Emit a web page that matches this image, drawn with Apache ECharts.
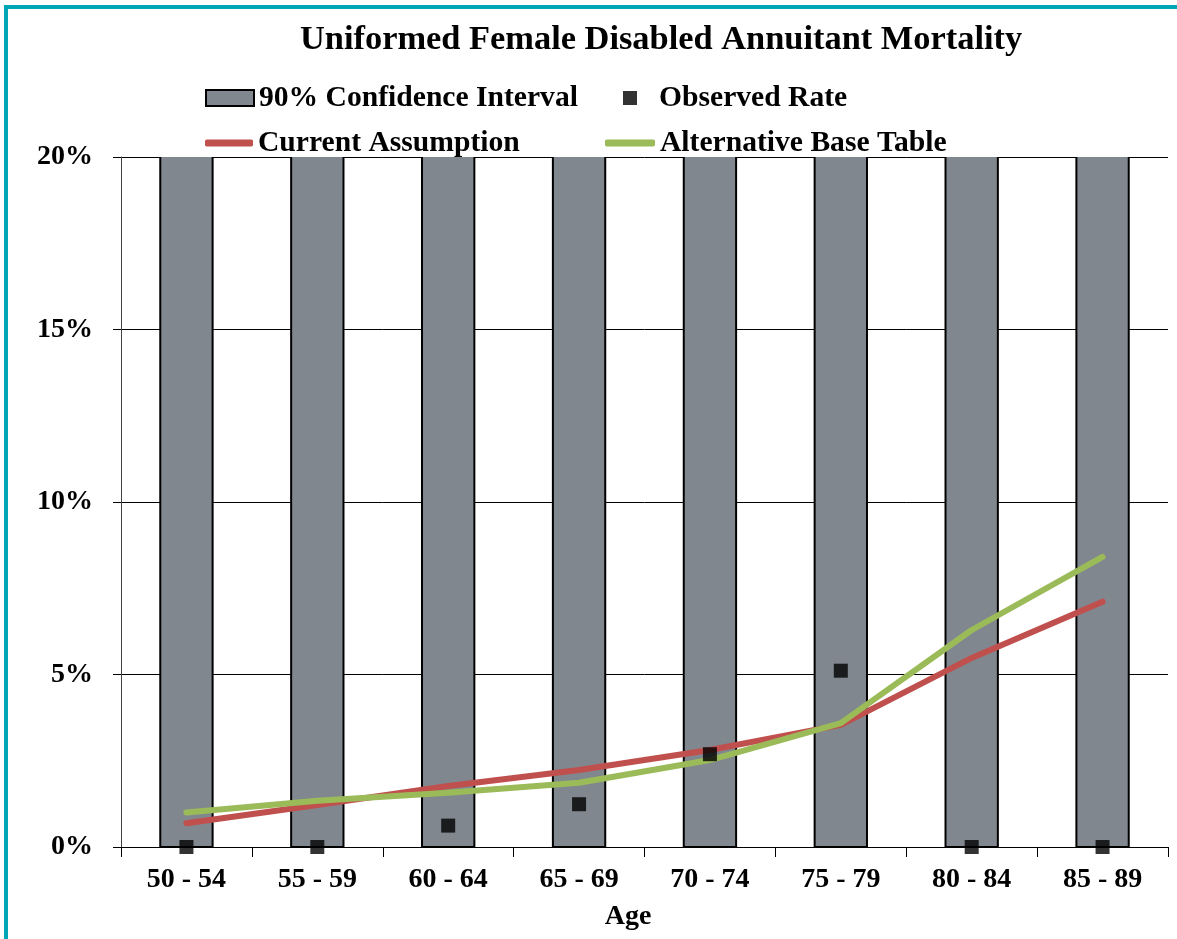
<!DOCTYPE html>
<html>
<head>
<meta charset="utf-8">
<script src="https://cdn.jsdelivr.net/npm/echarts@6/dist/echarts.min.js"></script>
<style>
html, body { margin: 0; padding: 0; background: #ffffff; overflow: hidden; width: 1177px; height: 939px; }
#frame { position: absolute; left: 4px; top: 5px; width: 1300px; height: 1100px; border-left: 4px solid #00A6B6; border-top: 4px solid #00A6B6; }
#chart { position: absolute; left: 0; top: 0; width: 1177px; height: 939px; }
</style>
</head>
<body>
<div id="frame"></div>
<div id="chart"></div>
<script>
// ---- data ----
const categories = ['50 - 54', '55 - 59', '60 - 64', '65 - 69', '70 - 74', '75 - 79', '80 - 84', '85 - 89'];
// 90% confidence interval: lower bound and upper bound (upper bounds run past the 20% axis maximum)
const ciLower = [0, 0, 0, 0, 0, 0, 0, 0];
const ciUpper = [0.25, 0.25, 0.25, 0.25, 0.25, 0.25, 0.25, 0.25];
const observedRate = [0, 0, 0.0062, 0.0124, 0.0269, 0.0511, 0, 0];
const currentAssumption = [0.0069, 0.0122, 0.0177, 0.0223, 0.0281, 0.0354, 0.0548, 0.0711];
const alternativeBaseTable = [0.0100, 0.0134, 0.0157, 0.0186, 0.0252, 0.0359, 0.0629, 0.0841];
const yMin = 0, yMax = 0.20, yStep = 0.05;

const FONT = "'Liberation Serif', 'Times New Roman', serif";
const ciData = categories.map((c, i) => [i, ciLower[i], ciUpper[i]]);

const chart = echarts.init(document.getElementById('chart'), null, { renderer: 'canvas' });

const legendText = { fontFamily: FONT, fontWeight: 'bold', fontSize: 29.6, color: '#000', lineHeight: 30 };

function renderCI(params, api) {
  const x = api.value(0);
  const lo = api.value(1), hi = api.value(2);
  const p0 = api.coord([x, lo]);
  const p1 = api.coord([x, hi]);
  const w = api.size([1, 0])[0] * 0.4;
  const cs = params.coordSys;
  const top = Math.max(p1[1], cs.y);
  const bottom = Math.min(p0[1], cs.y + cs.height);
  const l = p0[0] - w / 2, r = p0[0] + w / 2;
  const clippedTop = p1[1] < cs.y;
  const pts = clippedTop
    ? [[l, top], [l, bottom], [r, bottom], [r, top]]
    : [[l, top], [l, bottom], [r, bottom], [r, top], [l, top]];
  return {
    type: 'group',
    children: [
      { type: 'rect', shape: { x: l, y: top, width: w, height: bottom - top }, style: { fill: '#80878F' } },
      { type: 'polyline', shape: { points: pts }, style: { stroke: '#000', lineWidth: 2, fill: null } }
    ]
  };
}

chart.setOption({
  backgroundColor: 'transparent',
  animation: false,
  title: {
    text: 'Uniformed Female Disabled Annuitant Mortality',
    left: 300,
    top: 23,
    padding: 0,
    textStyle: { fontFamily: FONT, fontWeight: 'bold', fontSize: 34.4, color: '#000' }
  },
  legend: [
    {
      data: [{ name: '90% Confidence Interval', icon: 'rect' }],
      left: 205, top: 83, padding: 0, itemWidth: 48, itemHeight: 16, itemGap: 0,
      selectedMode: false, textStyle: legendText
    },
    {
      data: [{ name: 'Observed Rate', icon: 'rect' }],
      left: 623, top: 83, padding: 0, itemWidth: 14, itemHeight: 14, itemGap: 0,
      selectedMode: false,
      formatter: n => '{g|}' + n,
      textStyle: Object.assign({}, legendText, { rich: { g: { width: 17 } } })
    },
    {
      data: [{ name: 'Current Assumption', icon: 'roundRect' }],
      left: 205, top: 128, padding: 0, itemWidth: 48, itemHeight: 7, itemGap: 0,
      selectedMode: false, textStyle: legendText
    },
    {
      data: [{ name: 'Alternative Base Table', icon: 'roundRect' }],
      left: 605, top: 128, padding: 0, itemWidth: 50, itemHeight: 7, itemGap: 0,
      selectedMode: false, textStyle: legendText
    }
  ],
  grid: { left: 121, right: 9, top: 157, bottom: 92, containLabel: false },
  xAxis: {
    type: 'category',
    data: categories,
    boundaryGap: true,
    name: 'Age',
    nameLocation: 'middle',
    nameGap: 56,
    nameTextStyle: { fontFamily: FONT, fontWeight: 'bold', fontSize: 28, color: '#000', padding: [0, 33, 0, 0] },
    axisLine: { show: true, lineStyle: { color: '#000', width: 1 } },
    axisTick: { show: true, length: 10, lineStyle: { color: '#000', width: 1 } },
    axisLabel: { margin: 19, fontFamily: FONT, fontWeight: 'bold', fontSize: 28, color: '#000' },
    splitLine: { show: false }
  },
  yAxis: {
    type: 'value',
    min: yMin, max: yMax, interval: yStep,
    axisLine: { show: true, lineStyle: { color: '#404040', width: 1 } },
    axisTick: { show: true, length: 8, lineStyle: { color: '#000', width: 1 } },
    axisLabel: {
      margin: 28, fontFamily: FONT, fontWeight: 'bold', fontSize: 28, color: '#000',
      formatter: v => Math.round(v * 100) + '%'
    },
    splitLine: { show: true, lineStyle: { color: '#000', width: 1 } }
  },
  series: [
    {
      name: '90% Confidence Interval',
      type: 'custom',
      renderItem: renderCI,
      data: ciData,
      encode: { x: 0, y: [1, 2] },
      itemStyle: { color: '#80878F', borderColor: '#000', borderWidth: 2 },
      z: 2
    },
    {
      name: 'Current Assumption',
      type: 'line',
      data: currentAssumption,
      color: '#C0504D',
      symbol: 'none',
      lineStyle: { color: '#C0504D', width: 6, cap: 'round', join: 'round' },
      itemStyle: { color: '#C0504D' },
      z: 3
    },
    {
      name: 'Alternative Base Table',
      type: 'line',
      data: alternativeBaseTable,
      color: '#9BBB59',
      symbol: 'none',
      lineStyle: { color: '#9BBB59', width: 6, cap: 'round', join: 'round' },
      itemStyle: { color: '#9BBB59' },
      z: 4
    },
    {
      name: 'Observed Rate',
      type: 'scatter',
      data: observedRate,
      symbol: 'rect',
      symbolSize: 14,
      itemStyle: { color: '#000' },
      clip: false,
      z: 5
    }
  ]
});
</script>
</body>
</html>
